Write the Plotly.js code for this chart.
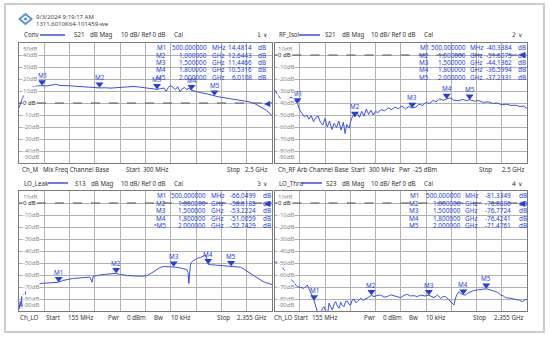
<!DOCTYPE html>
<html><head><meta charset="utf-8">
<script src="https://cdn.plot.ly/plotly-3.0.1.min.js"></script>
<style>html,body{margin:0;padding:0;background:#fff;}#c{width:550px;height:338px;}</style>
</head><body><div id="c"></div>
<script>
// ---------------- DATA ----------------
// Panel 1: Conv S21 (MHz, dB)
const p1Freq = [300,320,340,360,380,400,430,460,500,540,580,620,660,700,750,800,850,900,950,1000,1050,1100,1150,1200,1250,1300,1350,1400,1450,1500,1530,1560,1580,1600,1620,1640,1660,1680,1700,1720,1740,1760,1780,1800,1830,1860,1900,1940,1970,2000,2030,2060,2100,2150,2200,2250,2300,2350,2400,2450,2500];
const p1Val  = [-4,2,6.5,9.5,11.5,12.8,13.8,14.3,14.5,14.2,15.2,15.6,14.6,14.2,14.3,13.9,13.5,13.2,12.9,12.6,12.7,12.4,12.8,13.1,13.6,13.8,13.2,12.4,11.9,11.4,11.9,12.5,9.8,13.2,14.5,12.8,11.2,13.5,9.5,12.0,12.8,11.2,12.4,10.5,10.0,9.0,8.2,7.5,6.6,6.0,5.2,4.8,4.2,3.6,3.0,2.2,1.0,-0.5,-3.5,-6.0,-10.5];
// Panel 2: RF_Isol S21
const p2Freq = [300,330,360,390,410,440,460,480,500,520,540,560,580,600,620,640,660,680,700,720,740,760,780,800,820,840,860,880,900,915,930,950,970,990,1000,1020,1040,1060,1080,1100,1120,1140,1160,1180,1200,1230,1260,1290,1320,1350,1380,1410,1440,1470,1500,1530,1560,1590,1620,1650,1680,1710,1740,1770,1800,1830,1860,1900,1940,1970,2000,2040,2080,2120,2160,2200,2240,2280,2320,2360,2400,2440,2470,2500];
const p2Val  = [-29,-33,-38,-41.5,-41,-35,-36,-38.5,-40.3,-46,-49,-51.5,-50,-53.5,-50.5,-55.5,-52,-51,-56,-58.5,-53,-60,-55,-62,-57,-60.5,-55,-62.5,-56,-65.5,-58,-61,-53,-50,-51.6,-48,-52,-47,-51,-45,-49.5,-46,-50,-47,-48,-45.5,-46.5,-44,-45.5,-43.5,-44.8,-42.5,-45,-43,-44.1,-43.5,-41,-42,-39.5,-40.5,-38,-38.8,-36.5,-37.8,-36.6,-35.8,-37.5,-38.2,-37,-38,-37.2,-38.5,-38,-39.5,-39,-40.3,-40,-41.5,-41,-42,-41.8,-43,-42.5,-44.5];
// Panel 3: LO_Leak S13
const p3Freq = [155,160,166,172,178,184,190,196,202,208,215,222,235,250,265,280,300,325,350,375,400,430,460,500,540,580,620,660,700,740,770,785,790,800,820,860,900,950,1000,1030,1066,1100,1150,1200,1240,1270,1300,1330,1360,1390,1420,1450,1500,1530,1560,1590,1615,1625,1632,1638,1645,1655,1670,1690,1710,1735,1755,1770,1780,1790,1800,1830,1860,1900,1950,2000,2040,2080,2110,2140,2170,2200,2230,2260,2290,2320,2355];
const p3Val  = [-84,-88,-82,-86,-78,-87,-80,-76,-83,-74,-72,-71,-70,-69.5,-69,-68.5,-68,-67.5,-67,-66.8,-66.5,-66.3,-66,-66,-64.5,-63.5,-63,-62.6,-62.5,-62,-61.8,-64.5,-66,-61,-60.5,-60,-59.5,-59,-58.6,-59.5,-60.2,-60.5,-60.8,-61,-61,-60.5,-59,-57,-55,-53.5,-52.8,-52.9,-53.2,-53.6,-54.2,-54.8,-55.5,-58,-67,-60,-52,-49.5,-48,-47,-46,-45.5,-44.5,-43.5,-44,-49,-51,-51.5,-51.8,-52.2,-52.5,-52.7,-53,-53.5,-55,-57,-59,-61,-63,-64.5,-66,-67,-68];
// Panel 4: LO_Thru S23
const p4Freq = [155,180,210,238,265,296,325,354,385,412,441,464,482,500,515,528,545,557,572,586,600,615,630,645,659,675,688,703,717,732,746,761,775,790,805,819,834,848,862,877,892,906,928,950,975,1000,1022,1050,1080,1110,1138,1168,1196,1225,1254,1283,1312,1340,1370,1400,1429,1465,1500,1520,1545,1574,1603,1625,1647,1675,1690,1704,1719,1730,1742,1762,1780,1800,1821,1840,1864,1890,1922,1960,2000,2039,2070,2097,2126,2150,2169,2190,2213,2240,2271,2290,2314,2330,2343,2355];
const p4Val  = [-48.9,-49.5,-52,-55.8,-59.5,-62.8,-66.5,-69.7,-70.5,-71.1,-68.3,-72.5,-77,-81.3,-86,-92,-96,-93,-88,-86.4,-91,-94,-83.6,-87,-89.2,-84,-82.2,-86,-87.8,-82.8,-85.5,-86.4,-82,-81.7,-84.5,-85,-80.5,-80,-83,-82.2,-80.5,-79.4,-81,-80,-78.5,-76.9,-78,-77,-76.7,-78.5,-78,-76.5,-77.2,-78,-78.9,-77,-76.1,-77.5,-77.2,-78,-76.7,-77.5,-76.8,-77.8,-78.9,-76.7,-79.4,-78,-78,-80.8,-82,-83.6,-85,-80,-76.7,-73.9,-75.5,-76.4,-76.7,-75,-73.9,-73,-72.5,-72,-71.5,-72.5,-73.5,-74.4,-76.7,-77.5,-78.9,-79,-79.4,-80,-80.3,-81,-82.2,-81,-80.3,-80.5];

// Markers
const markerNames = ['M1','M2','M3','M4','M5'];
const markerFreq = [500,1000,1500,1800,2000];
const markerFreqText = ['500.000000','1.000000','1.500000','1.800000','2.000000'];
const markerUnit = ['MHz','GHz','GHz','GHz','GHz'];
const p1Markers = [14.4814,12.6443,11.4466,10.5316,6.0108];
const p2Markers = [-40.3384,-51.6075,-44.1362,-36.5994,-37.2331];
const p3Markers = [-66.0499,-58.6185,-53.2224,-51.0059,-52.7429];
const p4Markers = [-81.3349,-76.8886,-76.7724,-76.4241,-71.4761];

// Tick labels
const ticksP1 = [50,40,30,20,10,0,-10,-20,-30,-40,-50];
const ticksP234 = [10,0,-10,-20,-30,-40,-50,-60,-70,-80,-90];

// Texts
const headers = [
  ['Conv','S21','dB Mag','10 dB/ Ref 0 dB','Cal','1 \u2228'],
  ['RF_Isol','S21','dB Mag','10 dB/ Ref 0 dB','Cal','2 \u2228'],
  ['LO_Leak','S13','dB Mag','10 dB/ Ref 0 dB','Cal','3 \u2228'],
  ['LO_Thru','S23','dB Mag','10 dB/ Ref 0 dB','Cal','4 \u2228']
];
const footers = [
  ['Ch_M','Mix Freq Channel Base','Start','300 MHz','Stop','2.5 GHz'],
  ['Ch_RF','Arb Channel Base','Start','300 MHz','Pwr','-25 dBm','Stop','2.5 GHz'],
  ['Ch_LO','Start','155 MHz','Pwr','0 dBm','Bw','10 kHz','Stop','2.355 GHz'],
  ['Ch_LO','Start','155 MHz','Pwr','0 dBm','Bw','10 kHz','Stop','2.355 GHz']
];
const stampLines = ['9/3/2024 9:19:17 AM','1311.6010K64-101459-we'];

// ---------------- LAYOUT ----------------
const W=550,H=338;
const px=x=>x/W, py=y=>1-y/H;
const TRACE='#3b4fe4', MK='#2140e0', TXT='#333333', GRID='#b0b0b0', FONT='Noto Sans, sans-serif';
const TF=6.2; // header/footer font size

const panels = [
  {x0:19,x1:272,y0:43,y1:163,start:300,stop:2500,range:[-50,50],ticks:ticksP1,f:p1Freq,v:p1Val,m:p1Markers,
   hdr:[23,73,89,120,173,268],line:[40,65],hy:35,
   ftr:[21,42,125,142,226,268],fy:169.5,
   tbl:[167,208,211,253,257]},
  {x0:274.5,x1:527,y0:43,y1:163,start:300,stop:2500,range:[-90,10],ticks:ticksP234,f:p2Freq,v:p2Val,m:p2Markers,
   hdr:[278,324,341,370,423,523],line:[299,320],hy:35,
   ftr:[277,296,350,368,398,412,478,525],fy:169.5,
   tbl:[430,467,469,513,517]},
  {x0:19,x1:272,y0:191,y1:311,start:155,stop:2355,range:[-90,10],ticks:ticksP234,f:p3Freq,v:p3Val,m:p3Markers,
   hdr:[23,74,90,120,173,268],line:[48,68],hy:183,
   ftr:[19,45,67,107,126,153,170,216,268],fy:317.7,
   tbl:[167,207,210,257,262]},
  {x0:274.5,x1:527,y0:191,y1:311,start:155,stop:2355,range:[-90,10],ticks:ticksP234,f:p4Freq,v:p4Val,m:p4Markers,
   hdr:[278,325,341,370,423,523],line:[301,322],hy:183,
   ftr:[273,293,311,363,382,408,425,472,525],fy:317.7,
   tbl:[420,462,464,512,518]}
];

const data=[], annotations=[], shapes=[];
const layout = {width:W,height:H,margin:{l:0,r:0,t:0,b:0},paper_bgcolor:'#fff',plot_bgcolor:'#fff',showlegend:false,font:{family:FONT,size:7,color:TXT}};

function ann(o){annotations.push(Object.assign({showarrow:false,font:{family:FONT,size:TF,color:TXT},borderpad:0},o));}

panels.forEach((p,i)=>{
  const n=i===0?'':(i+1);
  const xa='x'+n, ya='y'+n;
  layout['xaxis'+n]={domain:[px(p.x0),px(p.x1)],anchor:ya,range:[p.start,p.stop],tick0:p.start,dtick:220,
    showgrid:true,gridcolor:GRID,gridwidth:1,showticklabels:false,ticks:'',zeroline:false,
    showline:true,mirror:true,linecolor:'#7a7a7a',linewidth:1,fixedrange:true};
  layout['yaxis'+n]={domain:[py(p.y1),py(p.y0)],anchor:xa,range:p.range,tick0:0,dtick:10,
    showgrid:true,gridcolor:GRID,gridwidth:1,showticklabels:false,ticks:'',zeroline:false,
    showline:true,mirror:true,linecolor:'#7a7a7a',linewidth:1,fixedrange:true};
  shapes.push({type:'line',xref:xa+' domain',yref:ya,x0:0,x1:1,y0:0,y1:0,line:{color:'#555',width:1,dash:'dash'}});
  data.push({type:'scatter',mode:'lines',x:p.f,y:p.v,xaxis:xa,yaxis:ya,line:{color:TRACE,width:1},hoverinfo:'skip'});
  data.push({type:'scatter',mode:'markers',x:markerFreq,y:p.m,xaxis:xa,yaxis:ya,cliponaxis:false,
    marker:{symbol:'triangle-up',angle:180,standoff:3.5,size:7,color:MK},hoverinfo:'skip'});
  markerNames.forEach((nm,k)=>ann({xref:xa,yref:ya,x:markerFreq[k],y:p.m[k],yshift:10,text:nm,font:{family:FONT,size:6.3,color:MK}}));
  ann({xref:xa+' domain',yref:ya,x:1,y:0,xanchor:'right',yanchor:'middle',text:'\u25C0',font:{family:'DejaVu Sans',size:8,color:MK}});
  p.ticks.forEach((t,k)=>{
    const last=p.ticks.length-1;
    const lab = t===0?'0 dB':(t+'dB');
    ann({xref:'paper',yref:ya,x:px(p.x0+2.5),y:t,xanchor:'left',yanchor:k===0?'top':(k===last?'bottom':'middle'),
      yshift:k===0?-1:(k===last?1:0),text:lab,bgcolor:'#fff',
      font:{family:FONT,size:6,color:t===0?'#222':'#8a8a8a'}});
  });
  markerNames.forEach((nm,k)=>{
    const yy=py(p.y0+4.5+7.5*k);
    const f={family:FONT,size:6.4,color:MK};
    ann({xref:'paper',yref:'paper',x:px(p.tbl[0]),y:yy,xanchor:'right',yanchor:'middle',text:(i===2&&k===4?'\u2022':'')+nm,font:f});
    ann({xref:'paper',yref:'paper',x:px(p.tbl[1]),y:yy,xanchor:'right',yanchor:'middle',text:markerFreqText[k],font:f});
    ann({xref:'paper',yref:'paper',x:px(p.tbl[2]),y:yy,xanchor:'left',yanchor:'middle',text:markerUnit[k],font:f});
    ann({xref:'paper',yref:'paper',x:px(p.tbl[3]),y:yy,xanchor:'right',yanchor:'middle',text:p.m[k].toFixed(4),font:f});
    ann({xref:'paper',yref:'paper',x:px(p.tbl[4]),y:yy,xanchor:'left',yanchor:'middle',text:'dB',font:f});
  });
  const h=headers[i];
  h.forEach((t,k)=>{
    const last=k===h.length-1;
    ann({xref:'paper',yref:'paper',x:px(p.hdr[k]),y:py(p.hy),xanchor:last?'right':'left',yanchor:'middle',text:t,
      font:{family:last?'DejaVu Sans, sans-serif':FONT,size:TF,color:TXT}});
  });
  shapes.push({type:'line',xref:'paper',yref:'paper',x0:px(p.line[0]),x1:px(p.line[1]),y0:py(p.hy),y1:py(p.hy),line:{color:TRACE,width:1.5}});
  const fo=footers[i];
  fo.forEach((t,k)=>{
    const last=k===fo.length-1;
    ann({xref:'paper',yref:'paper',x:px(p.ftr[k]),y:py(p.fy),xanchor:last?'right':'left',yanchor:'middle',text:t});
  });
});

stampLines.forEach((t,k)=>ann({xref:'paper',yref:'paper',x:px(35),y:py(17+7*k),xanchor:'left',yanchor:'middle',text:t,font:{family:FONT,size:6,color:'#444'}}));
const lc=[25.5,19], lr=[7.5,6.2];
function dia(cx,cy,rx,ry){return `M${px(cx)},${py(cy-ry)} L${px(cx+rx)},${py(cy)} L${px(cx)},${py(cy+ry)} L${px(cx-rx)},${py(cy)} Z`;}
shapes.push({type:'path',xref:'paper',yref:'paper',path:dia(lc[0],lc[1],lr[0],lr[1]),fillcolor:'#4a95dd',line:{width:0}});
shapes.push({type:'path',xref:'paper',yref:'paper',path:dia(lc[0],lc[1],4.6,3.8),fillcolor:'#fff',line:{width:0}});
shapes.push({type:'path',xref:'paper',yref:'paper',path:dia(lc[0],lc[1],2.2,1.8),fillcolor:'#4a95dd',line:{width:0}});
shapes.push({type:'rect',xref:'paper',yref:'paper',x0:px(5),x1:px(544),y0:py(332),y1:py(4),line:{color:'#bdbdbd',width:1.5}});

layout.annotations=annotations; layout.shapes=shapes;
Plotly.newPlot('c',data,layout,{staticPlot:true,displayModeBar:false});
</script></body></html>
